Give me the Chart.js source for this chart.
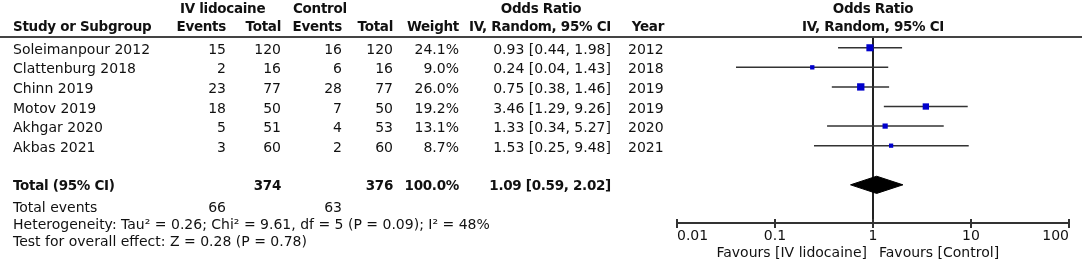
<!DOCTYPE html>
<html>
<head>
<meta charset="utf-8">
<script src="https://cdn.jsdelivr.net/npm/chart.js@4.4.1/dist/chart.umd.min.js"></script>
<style>
  html, body { margin: 0; padding: 0; background: #fff; }
  #wrap { position: relative; width: 1084px; height: 262px; overflow: hidden;
          font-family: "DejaVu Sans", sans-serif; font-size: 14px; color: #111; }
  #wrap canvas { position: absolute; left: 0; top: 0; }
  .t { position: absolute; line-height: 20px; white-space: nowrap; }
  .b { font-weight: bold; font-size: 13.5px; letter-spacing: -0.3px; }
  .rule { position: absolute; left: 0; top: 36px; width: 1082px; height: 0; border-top: 2px solid #444; }
</style>
</head>
<body>
<div id="wrap">
  <canvas id="forest" width="1084" height="262"></canvas>
  <div class="rule"></div>
</div>
<script>
// study data
const studies    = ["Soleimanpour 2012", "Clattenburg 2018", "Chinn 2019", "Motov 2019", "Akhgar 2020", "Akbas 2021"];
const lidoEvents = [15, 2, 23, 18, 5, 3];
const lidoTotal  = [120, 16, 77, 50, 51, 60];
const ctrlEvents = [16, 6, 28, 7, 4, 2];
const ctrlTotal  = [120, 16, 77, 50, 53, 60];
const weights    = [24.1, 9.0, 26.0, 19.2, 13.1, 8.7];
const oddsRatio  = [0.93, 0.24, 0.75, 3.46, 1.33, 1.53];
const ciLow      = [0.44, 0.04, 0.38, 1.29, 0.34, 0.25];
const ciHigh     = [1.98, 1.43, 1.46, 9.26, 5.27, 9.48];
const years      = [2012, 2018, 2019, 2019, 2020, 2021];

// pooled estimate (random effects)
const pooledOR = 1.09, pooledLow = 0.59, pooledHigh = 2.02;
const totalWeight = "100.0%";
const tau2 = 0.26, chi2 = 9.61, df = 5, pHet = 0.09, i2 = 48;
const zValue = 0.28, pOverall = 0.78;

const xTicks = [0.01, 0.1, 1, 10, 100];
const xTickLabels = ["0.01", "0.1", "1", "10", "100"];
const totalRow = 7;

// column anchors (px)
const col = { study: 13, ev1: 226, tot1: 281, ev2: 342, tot2: 393, weight: 459, or: 611, year: 628 };

const fmtCI = (o, l, h) => o.toFixed(2) + " [" + l.toFixed(2) + ", " + h.toFixed(2) + "]";
const sum = arr => arr.reduce((a, b) => a + b, 0);

// draws tick marks crossing the axis line
const crossTicks = {
    id: "crossTicks",
    afterDraw(chart) {
        const xs = chart.scales.x, ctx = chart.ctx, y = chart.chartArea.bottom;
        ctx.save();
        ctx.strokeStyle = "#333";
        ctx.lineWidth = 2;
        xs.ticks.forEach(t => {
            const px = Math.round(xs.getPixelForValue(t.value));
            ctx.beginPath();
            ctx.moveTo(px, y - 4);
            ctx.lineTo(px, y + 5);
            ctx.stroke();
        });
        ctx.restore();
    }
};

const datasets = [];

// squares, size by weight
datasets.push({
    data: oddsRatio.map((v, i) => ({ x: v, y: i })),
    pointStyle: "rect",
    pointRadius: weights.map(w => 1.02 * Math.sqrt(w)),
    backgroundColor: "#0000cc",
    borderWidth: 0,
    showLine: false,
    order: 0
});

// pooled diamond
datasets.push({
    data: [
        { x: pooledLow, y: totalRow },
        { x: pooledOR, y: totalRow - 0.44 },
        { x: pooledHigh, y: totalRow },
        { x: pooledOR, y: totalRow + 0.44 },
        { x: pooledLow, y: totalRow }
    ],
    showLine: true,
    fill: "shape",
    backgroundColor: "#000",
    borderColor: "#000",
    borderWidth: 1,
    pointRadius: 0,
    tension: 0,
    order: 1
});

// confidence intervals
studies.forEach((s, i) => {
    datasets.push({
        data: [{ x: ciLow[i], y: i }, { x: ciHigh[i], y: i }],
        showLine: true,
        borderColor: "#333",
        borderWidth: 1.5,
        pointRadius: 0,
        order: 2
    });
});

// line of no effect
datasets.push({
    data: [{ x: 1, y: -0.55 }, { x: 1, y: 8.95 }],
    showLine: true,
    borderColor: "#222",
    borderWidth: 2,
    pointRadius: 0,
    order: 3
});

const chart = new Chart(document.getElementById("forest"), {
    type: "scatter",
    data: { datasets: datasets },
    options: {
        responsive: false,
        animation: false,
        devicePixelRatio: 1,
        layout: { padding: { left: 677, right: 15, top: 37, bottom: 0 } },
        plugins: { legend: { display: false }, tooltip: { enabled: false } },
        scales: {
            x: {
                type: "logarithmic",
                min: 0.01,
                max: 100,
                afterBuildTicks: scale => { scale.ticks = xTicks.map(v => ({ value: v })); },
                afterFit: scale => { scale.height = 39; },
                grid: { display: false },
                border: { display: true, color: "#333", width: 2 },
                ticks: { display: false }
            },
            y: {
                type: "linear",
                reverse: true,
                min: -0.55,
                max: 8.95,
                display: false
            }
        }
    },
    plugins: [crossTicks]
});

// ---- text columns ----
const wrap = document.getElementById("wrap");

function addText(txt, x, y, align, bold) {
    const d = document.createElement("div");
    d.className = "t" + (bold ? " b" : "");
    d.textContent = txt;
    d.style.top = (y - 10) + "px";
    if (align === "right") {
        d.style.right = (1084 - x) + "px";
    } else if (align === "center") {
        d.style.left = x + "px";
        d.style.transform = "translateX(-50%)";
    } else {
        d.style.left = x + "px";
    }
    wrap.appendChild(d);
}

const ys = chart.scales.y;
const xs = chart.scales.x;
const xOne = xs.getPixelForValue(1);

// headers
addText("IV lidocaine", 180, 8, "left", true);
addText("Control", 293, 8, "left", true);
addText("Odds Ratio", 541, 8, "center", true);
addText("Odds Ratio", xOne, 8, "center", true);
addText("Study or Subgroup", col.study, 26, "left", true);
addText("Events", col.ev1, 26, "right", true);
addText("Total", col.tot1, 26, "right", true);
addText("Events", col.ev2, 26, "right", true);
addText("Total", col.tot2, 26, "right", true);
addText("Weight", col.weight, 26, "right", true);
addText("IV, Random, 95% CI", col.or, 26, "right", true);
addText("Year", 664, 26, "right", true);
addText("IV, Random, 95% CI", xOne, 26, "center", true);

// study rows
studies.forEach((s, i) => {
    const y = ys.getPixelForValue(i) + 1;
    addText(s, col.study, y, "left");
    addText(String(lidoEvents[i]), col.ev1, y, "right");
    addText(String(lidoTotal[i]), col.tot1, y, "right");
    addText(String(ctrlEvents[i]), col.ev2, y, "right");
    addText(String(ctrlTotal[i]), col.tot2, y, "right");
    addText(weights[i].toFixed(1) + "%", col.weight, y, "right");
    addText(fmtCI(oddsRatio[i], ciLow[i], ciHigh[i]), col.or, y, "right");
    addText(String(years[i]), col.year, y, "left");
});

// total row
const yTot = ys.getPixelForValue(totalRow);
addText("Total (95% CI)", col.study, yTot, "left", true);
addText(String(sum(lidoTotal)), col.tot1, yTot, "right", true);
addText(String(sum(ctrlTotal)), col.tot2, yTot, "right", true);
addText(totalWeight, col.weight, yTot, "right", true);
addText(fmtCI(pooledOR, pooledLow, pooledHigh), col.or, yTot, "right", true);

addText("Total events", col.study, 207, "left");
addText(String(sum(lidoEvents)), col.ev1, 207, "right");
addText(String(sum(ctrlEvents)), col.ev2, 207, "right");
addText("Heterogeneity: Tau\u00b2 = " + tau2.toFixed(2) + "; Chi\u00b2 = " + chi2.toFixed(2) +
        ", df = " + df + " (P = " + pHet.toFixed(2) + "); I\u00b2 = " + i2 + "%", col.study, 224, "left");
addText("Test for overall effect: Z = " + zValue.toFixed(2) + " (P = " + pOverall.toFixed(2) + ")", col.study, 241, "left");

// axis tick labels, placed from the log scale (ends kept inside the axis)
xTicks.forEach((v, i) => {
    const px = xs.getPixelForValue(v);
    const align = i === 0 ? "left" : (i === xTicks.length - 1 ? "right" : "center");
    addText(xTickLabels[i], px, 235, align);
});

// favours labels
addText("Favours [IV lidocaine]", xOne - 6, 252, "right");
addText("Favours [Control]", xOne + 6, 252, "left");
</script>
</body>
</html>
